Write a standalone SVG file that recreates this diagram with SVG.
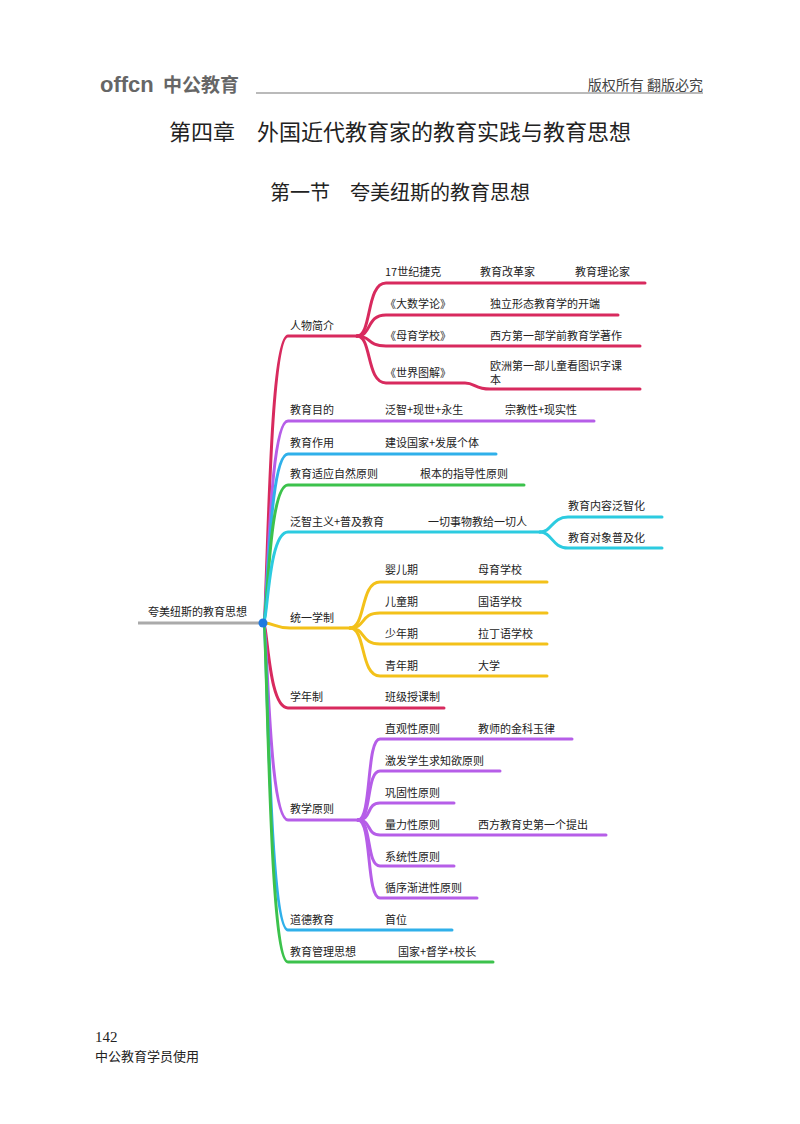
<svg xmlns="http://www.w3.org/2000/svg" width="800" height="1124" viewBox="0 0 800 1124">
<style>
text{font-family:"Noto Sans CJK SC","Noto Sans",sans-serif;fill:#222}
.t{font-size:11px}
.b{fill:none;stroke-width:3;stroke-linecap:round}
.r{stroke:#d82a5e}.p{stroke:#b65ee8}.bl{stroke:#2fb0ea}.g{stroke:#3cc24c}.c{stroke:#2ccbe0}.y{stroke:#f3c11a}
</style>
<rect width="800" height="1124" fill="#fff"/>
<g id="header">
<text x="100" y="92" style="font-family:'Liberation Sans',sans-serif;font-size:22px;font-weight:bold;fill:#666">offcn</text>
<text x="163" y="92" style="font-size:19px;font-weight:bold;fill:#666">中公教育</text>
<line x1="256" y1="93" x2="703" y2="93" stroke="#777" stroke-width="1.2"/>
<text x="703" y="90" text-anchor="end" style="font-size:14px;fill:#444">版权所有 翻版必究</text>
<text x="400" y="140" text-anchor="middle" style="font-size:22px">第四章　外国近代教育家的教育实践与教育思想</text>
<text x="400" y="200" text-anchor="middle" style="font-size:20px">第一节　夸美纽斯的教育思想</text>
</g>
<g id="connectors">
<line x1="138" y1="623" x2="263" y2="623" stroke="#aaa" stroke-width="3"/>
<path class="b r" d="M263,623 C268,623 268,336 288,336 L357,336"/>
<path class="b r" d="M357,336 C372,336 366,283 386,283 L645,283"/>
<path class="b r" d="M357,336 C372,336 366,315 386,315 L618,315"/>
<path class="b r" d="M357,336 C372,336 366,346 386,346 L640,346"/>
<path class="b r" d="M357,336 C372,336 366,383 386,383 L465,383 C475,383 475,389 490,389 L640,389"/>
<path class="b p" d="M263,623 C268,623 268,421 288,421 L594,421"/>
<path class="b bl" d="M263,623 C268,623 268,454 288,454 L496,454"/>
<path class="b g" d="M263,623 C268,623 268,485 288,485 L524,485"/>
<path class="b c" d="M263,623 C268,623 268,532 288,532 L540,532"/>
<path class="b c" d="M540,532 C552,532 552,517 568,517 L662,517"/>
<path class="b c" d="M540,532 C552,532 552,548 568,548 L662,548"/>
<path class="b y" d="M263,623 C275,623 275,628 290,628 L350,628"/>
<path class="b y" d="M350,628 C366,628 360,582 380,582 L547,582"/>
<path class="b y" d="M350,628 C366,628 360,613 380,613 L547,613"/>
<path class="b y" d="M350,628 C366,628 360,644 380,644 L547,644"/>
<path class="b y" d="M350,628 C366,628 360,676 380,676 L547,676"/>
<path class="b r" d="M263,623 C268,623 268,708 288,708 L444,708"/>
<path class="b p" d="M263,623 C268,623 268,820 288,820 L358,820"/>
<path class="b p" d="M358,820 C372,820 366,739 380,739 L572,739"/>
<path class="b p" d="M358,820 C372,820 366,771 380,771 L500,771"/>
<path class="b p" d="M358,820 C372,820 366,803 380,803 L454,803"/>
<path class="b p" d="M358,820 C372,820 366,835 380,835 L606,835"/>
<path class="b p" d="M358,820 C372,820 366,866 380,866 L454,866"/>
<path class="b p" d="M358,820 C372,820 366,898 380,898 L477,898"/>
<path class="b bl" d="M263,623 C268,623 268,930 288,930 L452,930"/>
<path class="b g" d="M263,623 C268,623 268,962 288,962 L493,962"/>
</g>
<g id="root"><circle cx="263" cy="623" r="4.5" fill="#1f7ae0"/><text class="t" x="148" y="616">夸美纽斯的教育思想</text></g>
<g id="n1" class="t"><text class="t" x="290" y="330">人物简介</text>
<text class="t" x="385" y="276">17世纪捷克</text><text class="t" x="480" y="276">教育改革家</text><text class="t" x="575" y="276">教育理论家</text>
<text class="t" x="385" y="308">《大数学论》</text><text class="t" x="490" y="308">独立形态教育学的开端</text>
<text class="t" x="385" y="340">《母育学校》</text><text class="t" x="490" y="340">西方第一部学前教育学著作</text>
<text class="t" x="385" y="377">《世界图解》</text><text class="t" x="490" y="370">欧洲第一部儿童看图识字课</text><text class="t" x="490" y="384">本</text></g>
<g id="n2"><text class="t" x="290" y="414">教育目的</text><text class="t" x="385" y="414">泛智+现世+永生</text><text class="t" x="505" y="414">宗教性+现实性</text></g>
<g id="n3"><text class="t" x="290" y="447">教育作用</text><text class="t" x="385" y="447">建设国家+发展个体</text></g>
<g id="n4"><text class="t" x="290" y="478">教育适应自然原则</text><text class="t" x="420" y="478">根本的指导性原则</text></g>
<g id="n5"><text class="t" x="290" y="526">泛智主义+普及教育</text><text class="t" x="428" y="526">一切事物教给一切人</text><text class="t" x="568" y="510">教育内容泛智化</text><text class="t" x="568" y="542">教育对象普及化</text></g>
<g id="n6"><text class="t" x="290" y="622">统一学制</text>
<text class="t" x="385" y="574">婴儿期</text><text class="t" x="478" y="574">母育学校</text>
<text class="t" x="385" y="606">儿童期</text><text class="t" x="478" y="606">国语学校</text>
<text class="t" x="385" y="638">少年期</text><text class="t" x="478" y="638">拉丁语学校</text>
<text class="t" x="385" y="670">青年期</text><text class="t" x="478" y="670">大学</text></g>
<g id="n7"><text class="t" x="290" y="701">学年制</text><text class="t" x="385" y="701">班级授课制</text></g>
<g id="n8"><text class="t" x="290" y="813">教学原则</text>
<text class="t" x="385" y="733">直观性原则</text><text class="t" x="478" y="733">教师的金科玉律</text>
<text class="t" x="385" y="765">激发学生求知欲原则</text>
<text class="t" x="385" y="797">巩固性原则</text>
<text class="t" x="385" y="829">量力性原则</text><text class="t" x="478" y="829">西方教育史第一个提出</text>
<text class="t" x="385" y="861">系统性原则</text>
<text class="t" x="385" y="892">循序渐进性原则</text></g>
<g id="n9"><text class="t" x="290" y="924">道德教育</text><text class="t" x="385" y="924">首位</text></g>
<g id="n10"><text class="t" x="290" y="956">教育管理思想</text><text class="t" x="398" y="956">国家+督学+校长</text></g>
<g id="footer"><text x="95" y="1042" style="font-family:'Liberation Serif',serif;font-size:15px">142</text><text x="95" y="1061" style="font-size:13px">中公教育学员使用</text></g>
</svg>
